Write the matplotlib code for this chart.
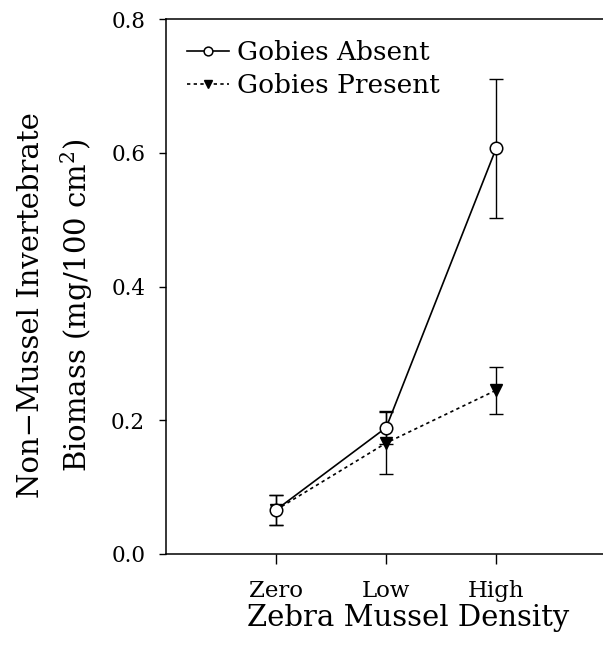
import numpy as np
import matplotlib.pyplot as plt

plt.rcParams['font.family'] = ['DejaVu Serif', 'DejaVu Sans']
plt.rcParams['mathtext.fontset'] = 'custom'
plt.rcParams['mathtext.rm'] = 'DejaVu Serif'

categories = ['Zero', 'Low', 'High']
absent = [0.066, 0.189, 0.607]
absent_err = [0.022, 0.025, 0.104]
present = [0.066, 0.166, 0.245]
present_err = [0.022, 0.046, 0.035]

x = np.arange(1, len(categories) + 1)

fig = plt.figure(figsize=(6.03, 6.56), dpi=100)
ax = fig.add_axes([0.2753, 0.1555, 0.7247, 0.8155])

# error bars
ax.errorbar(x, absent, yerr=absent_err, fmt='none', ecolor='black',
            capsize=5, elinewidth=1.0, capthick=1.0, zorder=2)
ax.errorbar(x, present, yerr=present_err, fmt='none', ecolor='black',
            capsize=5, elinewidth=1.0, capthick=1.0, zorder=2)

# lines + markers
ax.plot(x, present, color='black', lw=1.2, ls=(0, (2, 2)),
        marker='v', ms=8, mfc='black', mec='black', label='Gobies Present', zorder=3)
ax.plot(x, absent, color='black', lw=1.2, ls='-',
        marker='o', ms=9, mfc='white', mec='black', mew=1.1,
        label='Gobies Absent', zorder=4)

ax.set_xlim(0, 3.97)
ax.set_ylim(0, 0.8)
ax.set_xticks(x)
ax.set_xticklabels(categories, fontsize=16.5)
ax.set_yticks([0.0, 0.2, 0.4, 0.6, 0.8])
ax.set_yticklabels(['0.0', '0.2', '0.4', '0.6', '0.8'], fontsize=15.5)
ax.tick_params(axis='x', length=7, width=1, pad=12)
ax.tick_params(axis='y', length=5, width=1, pad=10)
ax.spines['right'].set_visible(False)
for s in ['left', 'top', 'bottom']:
    ax.spines[s].set_linewidth(1.1)

ax.set_xlabel('Zebra Mussel Density', fontsize=21)
ax.xaxis.set_label_coords(0.554, -0.093)

fig.text(56 / 603, 1 - 305 / 656,
         'Non\u2212Mussel Invertebrate\nBiomass (mg/100 cm$^2$)',
         rotation=90, ha='center', va='center', multialignment='center',
         fontsize=21, linespacing=1.45)

h, l = ax.get_legend_handles_labels()
leg = ax.legend(h[::-1], l[::-1], loc='upper left', bbox_to_anchor=(0.0, 1.0),
                frameon=False, fontsize=19, handlelength=1.6, handletextpad=0.3,
                labelspacing=0.3, borderaxespad=0.4, markerscale=0.7)

fig.savefig('out.png', dpi=100)
